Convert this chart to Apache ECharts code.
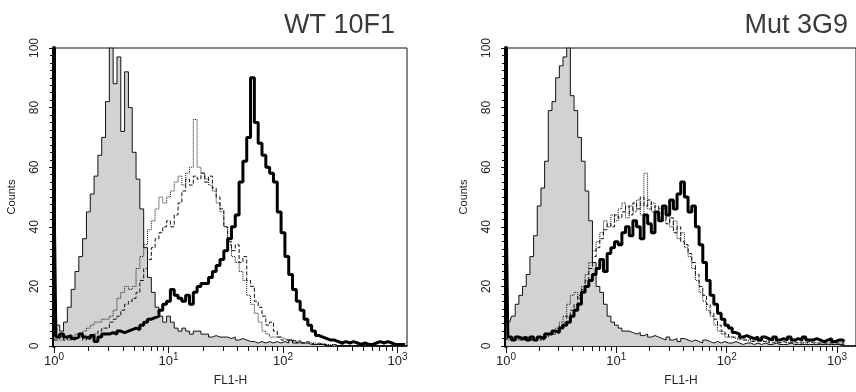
<!DOCTYPE html>
<html>
<head>
<meta charset="utf-8">
<title>FL1-H histograms</title>
<script src="https://cdn.jsdelivr.net/npm/echarts@6/dist/echarts.min.js"></script>
<style>
  html, body { margin: 0; padding: 0; background: #fff; }
  #chart { width: 856px; height: 392px; }
</style>
</head>
<body>
<div id="chart"></div>
<script>
  // bins are log-spaced: bin i sits at FL1-H = 10^(i / binsPerDecade)
  var binsPerDecade = 30;
  var panelTitles = ['WT 10F1', 'Mut 3G9'];
  var decadeTicks = [1, 10, 100, 1000];
  var minorTicks = [2, 3, 4, 5, 6, 7, 8, 9, 20, 30, 40, 50, 60, 70, 80, 90,
    200, 300, 400, 500, 600, 700, 800, 900];

  // WT 10F1 panel
  var ctrlWT = [3, 7, 5, 8, 13, 19, 25, 30, 36, 45,
    51, 57, 64, 70, 82, 100, 88, 97, 72, 92,
    80, 65, 56, 46, 33, 23, 18, 13, 10, 8,
    10, 8, 6, 5, 6, 5, 4, 5, 5, 4,
    4, 3, 3.5, 3, 3, 3, 2.5, 3, 2, 2.5,
    2, 1.5, 1.5, 1, 1.5, 1, 1.5, 1, 1.5, 1,
    1.5, 1, 2, 1, 1.5, 1, 1, 0.5, 0.5, 0.5,
    0.5, 0, 0, 0.5, 0, 0, 0, 0, 0, 0,
    0, 0, 0, 0, 0, 0, 0, 0, 0, 0,
    0, 0, 0];
  var dotWT = [2, 3, 2, 3, 2, 3, 4, 4, 5, 6,
    7, 8, 8, 9, 9, 10, 12, 16, 18, 20,
    19, 20, 26, 30, 34, 39, 42, 46, 50, 48,
    50, 52, 55, 57, 54, 58, 60, 76, 60, 58,
    56, 54, 52, 48, 45, 40, 34, 30, 28, 25,
    22, 17, 14, 11, 8, 5, 4, 3, 3, 3,
    2.5, 2, 2, 1.5, 2, 1, 1.5, 1, 1, 0.5,
    1, 0.5, 0.5, 0.5, 0, 0.5, 0, 0, 0, 0,
    0, 0, 0, 0, 0, 0, 0, 0, 0, 0,
    0, 0, 0];
  var dashWT = [2, 2, 3, 2, 3, 2, 3, 3, 2, 3,
    3, 4, 5, 6, 6, 8, 9, 10, 12, 14,
    15, 16, 18, 22, 26, 29, 33, 36, 38, 40,
    42, 40, 44, 48, 52, 56, 54, 57, 56, 58,
    55, 57, 53, 50, 46, 40, 35, 32, 34, 28,
    30, 22, 20, 15, 13, 10, 7, 8, 5, 3,
    2, 2, 1.5, 2, 1, 1, 1.5, 1, 0.5, 1,
    0.5, 0.5, 0, 0.5, 0, 0, 0, 0, 0, 0,
    0, 0, 0, 0, 0, 0, 0, 0, 0, 0,
    0, 0, 0];
  var thickWT = [52, 3, 4, 3, 3.5, 2.5, 3, 4, 3, 2.5,
    3.5, 1.5, 3, 4, 4, 4.5, 4, 5, 4.5, 5,
    5.5, 6, 5.5, 7, 8, 9, 9.5, 10, 12, 14,
    15, 19, 17, 16, 15, 17, 14, 18, 20, 21,
    21, 23, 25, 27, 29, 32, 36, 40, 44, 55,
    62, 70, 90, 75, 68, 64, 60, 58, 55, 45,
    38, 30, 24, 19, 15, 12, 9, 7, 5, 3.5,
    3, 2.5, 2, 2, 1.5, 1, 1.5, 1, 1.5, 1,
    0.5, 1, 0.5, 0.5, 1, 1.5, 1, 1.5, 1, 0.5,
    0.5, 0.5, 0.5];

  // Mut 3G9 panel
  var ctrlMut = [8, 8, 10, 14, 17, 20, 24, 30, 37, 47,
    53, 62, 79, 82, 90, 94, 97, 100, 84, 79,
    70, 62, 52, 42, 28, 20, 18, 14, 10, 8,
    7, 6, 5, 5, 4.5, 4, 4.5, 3.5, 4, 3,
    3.5, 3, 2.5, 2, 3, 2, 2.5, 1.5, 2.5, 2,
    1.5, 2, 1.5, 1, 2, 1.5, 1, 1.5, 1, 1.5,
    1, 1, 1.5, 1, 0.5, 1, 1, 0.5, 1, 0.5,
    1, 0.5, 0.5, 1, 0.5, 0.5, 0.5, 1, 0.5, 0.5,
    0.5, 0.5, 0.5, 0.5, 0.5, 0.5, 0.5, 0.5, 0.5, 0.5,
    0.5, 0.5, 0.5];
  var dotMut = [3, 2, 3, 2, 3, 2, 3, 2, 2.5, 3,
    2, 3, 4, 5, 6, 8, 10, 14, 17, 18,
    16, 20, 24, 28, 32, 35, 38, 42, 40, 44,
    42, 46, 48, 43, 47, 45, 49, 44, 58, 46,
    48, 44, 46, 42, 45, 40, 42, 36, 38, 33,
    30, 26, 22, 18, 15, 12, 10, 7, 5, 4,
    3, 3, 2.5, 2, 2.5, 2, 1.5, 2, 1.5, 2,
    1.5, 1, 2, 1.5, 1, 1.5, 1, 1.5, 1, 1,
    1.5, 1, 1, 1.5, 1, 1, 1, 1, 1, 1,
    1, 1, 1];
  var dashMut = [2, 3, 2, 3, 2, 2.5, 3, 2, 3, 2,
    3, 3, 4, 4, 5, 7, 8, 10, 12, 14,
    17, 19, 22, 26, 30, 33, 36, 39, 41, 40,
    44, 43, 45, 47, 44, 48, 46, 50, 47, 49,
    45, 47, 43, 46, 41, 43, 38, 40, 35, 34,
    31, 28, 24, 20, 17, 14, 11, 9, 7, 5,
    4, 3, 3, 2.5, 2, 2, 2.5, 1.5, 2, 1.5,
    1.5, 2, 1, 1.5, 1, 1.5, 1, 1, 1.5, 1,
    1, 1, 1.5, 1, 1, 1, 1, 1, 1, 1,
    1, 1, 1];
  var thickMut = [50, 3, 2, 3, 2.5, 3, 2, 3, 2, 3,
    2.5, 4, 4, 5, 4.5, 6, 7, 8, 10, 12,
    14, 18, 20, 22, 24, 26, 29, 25, 31, 33,
    35, 34, 38, 40, 37, 42, 40, 36, 44, 41,
    38, 45, 42, 47, 44, 49, 46, 51, 55, 50,
    45, 47, 40, 34, 28, 22, 17, 14, 11, 9,
    7, 6, 4.5, 4, 3, 3.5, 3, 2.5, 3, 2,
    3, 2.5, 2, 3, 2, 2.5, 2, 3, 2, 2.5,
    2, 3, 2, 2, 2.5, 2, 1.5, 2, 2.5, 1.5,
    2, 2, 1.5];

  var font = 'Liberation Sans, Arial, sans-serif';

  function toBins(counts) {
    return counts.map(function (c, i) {
      return [Math.pow(10, i / binsPerDecade), c];
    });
  }

  var panels = [
    { left: 54, width: 353, xMax: 1211, titleRight: 456,
      series: [ctrlWT, dotWT, dashWT, thickWT] },
    { left: 506, width: 360, xMax: 1485, titleRight: 3,
      series: [ctrlMut, dotMut, dashMut, thickMut] }
  ];

  var grids = [], xAxes = [], yAxes = [], series = [], titles = [];

  panels.forEach(function (p, k) {
    grids.push({
      left: p.left, top: 48, width: p.width, height: 298,
      show: true, borderColor: '#111', borderWidth: 1, backgroundColor: '#fff'
    });
    titles.push({
      text: panelTitles[k], right: p.titleRight, top: 7,
      textStyle: { fontFamily: font, fontSize: 27, fontWeight: 'normal', color: '#3a3a3a' }
    });
    // main x axis: decade labels and ticks
    xAxes.push({
      type: 'log', logBase: 10, gridIndex: k, min: 1, max: p.xMax,
      position: 'bottom',
      name: 'FL1-H', nameLocation: 'middle', nameGap: 29,
      nameTextStyle: { fontFamily: font, fontSize: 12, color: '#222' },
      axisLine: { lineStyle: { color: '#111', width: 1.5 } },
      axisTick: { customValues: decadeTicks, length: 7, lineStyle: { color: '#111' } },
      axisLabel: {
        customValues: decadeTicks, margin: 6,
        formatter: function (v) {
          return '{b|10}{s|' + Math.round(Math.log10(v)) + '}';
        },
        rich: {
          b: { fontFamily: font, fontSize: 13, color: '#222' },
          s: { fontFamily: font, fontSize: 10, color: '#222', padding: [0, 0, 9, 0] }
        }
      },
      splitLine: { show: false }
    });
    // overlay axis carrying the 2..9 minor ticks
    xAxes.push({
      type: 'log', logBase: 10, gridIndex: k, min: 1, max: p.xMax,
      position: 'bottom', offset: 0,
      axisLine: { show: false },
      axisTick: { customValues: minorTicks, length: 5, lineStyle: { color: '#111' } },
      axisLabel: { show: false },
      splitLine: { show: false }
    });
    yAxes.push({
      type: 'value', gridIndex: k, min: 0, max: 100, interval: 20,
      name: 'Counts', nameLocation: 'middle', nameRotate: 90, nameGap: 37,
      nameTextStyle: { fontFamily: font, fontSize: 11, color: '#222' },
      axisLine: { show: true, lineStyle: { color: '#000', width: 4 } },
      axisTick: { show: true, length: 5, lineStyle: { color: '#111' } },
      minorTick: { show: true, splitNumber: 8, length: 4, lineStyle: { color: '#111' } },
      axisLabel: { rotate: 90, margin: 13, fontFamily: font, fontSize: 12, color: '#222' },
      splitLine: { show: false }
    });

    var xIdx = k * 2;
    var styles = [
      { lineStyle: { color: '#111', width: 1 }, areaStyle: { color: '#d2d2d2', opacity: 1 } },
      { lineStyle: { color: '#111', width: 1, type: 'dotted' } },
      { lineStyle: { color: '#111', width: 1, type: [4, 2] } },
      { lineStyle: { color: '#000', width: 3 } }
    ];
    p.series.forEach(function (counts, j) {
      series.push(Object.assign({
        type: 'line', step: 'middle', xAxisIndex: xIdx, yAxisIndex: k,
        data: toBins(counts), symbol: 'none', silent: true, z: 2 + j
      }, styles[j]));
    });
  });

  var chart = echarts.init(document.getElementById('chart'), null, { renderer: 'canvas' });
  chart.setOption({
    animation: false,
    backgroundColor: '#fff',
    title: titles,
    grid: grids,
    xAxis: xAxes,
    yAxis: yAxes,
    series: series
  });
</script>
</body>
</html>
